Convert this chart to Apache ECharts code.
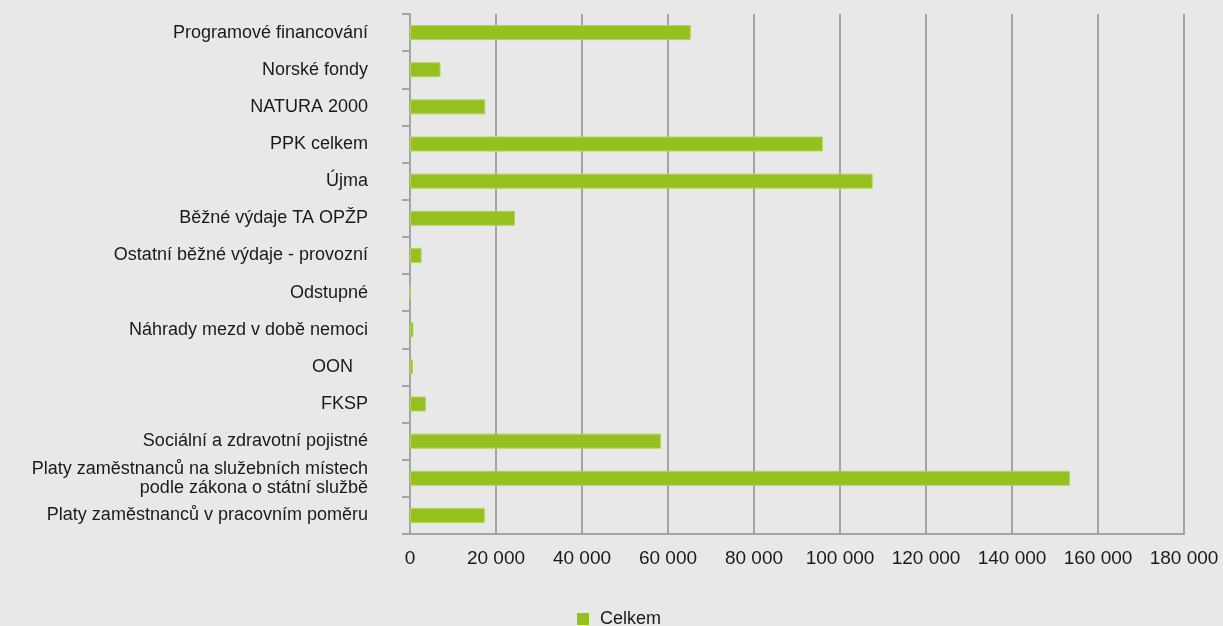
<!DOCTYPE html>
<html>
<head>
<meta charset="utf-8">
<script src="https://cdn.jsdelivr.net/npm/echarts@6/dist/echarts.min.js"></script>
<style>
  html, body { margin: 0; padding: 0; background: #e8e8e8; }
  #chart { width: 1223px; height: 626px; }
</style>
</head>
<body>
<div id="chart"></div>
<script>
// Expenditure items, listed from top to bottom
const categories = [
  'Programové financování',
  'Norské fondy',
  'NATURA 2000',
  'PPK celkem',
  'Újma',
  'Běžné výdaje TA OPŽP',
  'Ostatní běžné výdaje - provozní',
  'Odstupné',
  'Náhrady mezd v době nemoci',
  'OON   ',
  'FKSP',
  'Sociální a zdravotní pojistné',
  'Platy zaměstnanců na služebních místech\npodle zákona o státní službě',
  'Platy zaměstnanců v pracovním poměru'
];

// Totals per item
const celkem = [65300, 7100, 17500, 96000, 107600, 24400, 2700, 0, 800, 700, 3700, 58400, 153500, 17400];

const seriesName = 'Celkem';
const xMax = 180000;
const xStep = 20000;

const font = '"Liberation Sans", Arial, sans-serif';
const gray = '#a4a4a4';
const ink = '#1a1a1a';

const chart = echarts.init(document.getElementById('chart'), null, { renderer: 'canvas' });

chart.setOption({
  backgroundColor: '#e8e8e8',
  animation: false,
  textStyle: { fontFamily: font },
  grid: { left: 410, right: 39, top: 14, bottom: 92, containLabel: false },
  legend: {
    data: [seriesName],
    top: 605,
    left: 572,
    itemWidth: 12,
    itemHeight: 12,
    icon: 'rect',
    itemStyle: { borderWidth: 0 },
    textStyle: { fontSize: 18, color: ink, fontFamily: font, padding: [0, 0, 0, 6] }
  },
  xAxis: {
    type: 'value',
    min: 0,
    max: xMax,
    interval: xStep,
    axisLine: { show: true, lineStyle: { color: gray, width: 2 } },
    axisTick: { show: false },
    axisLabel: {
      fontSize: 19,
      color: ink,
      margin: 15,
      formatter: v => String(v).replace(/\B(?=(\d{3})+(?!\d))/g, ' ')
    },
    splitLine: { show: true, lineStyle: { color: gray, width: 2 } }
  },
  yAxis: {
    type: 'category',
    data: categories,
    inverse: true,
    axisLine: { show: true, lineStyle: { color: gray, width: 2 } },
    axisTick: { show: true, length: 8, lineStyle: { color: gray, width: 2 } },
    axisLabel: {
      fontSize: 18,
      color: ink,
      margin: 42,
      align: 'right',
      lineHeight: 19
    },
    splitLine: { show: false }
  },
  series: [{
    name: seriesName,
    type: 'bar',
    data: celkem,
    barWidth: 15,
    itemStyle: { color: '#95c11f', borderColor: '#b4d461', borderWidth: 1 }
  }]
});
</script>
</body>
</html>
